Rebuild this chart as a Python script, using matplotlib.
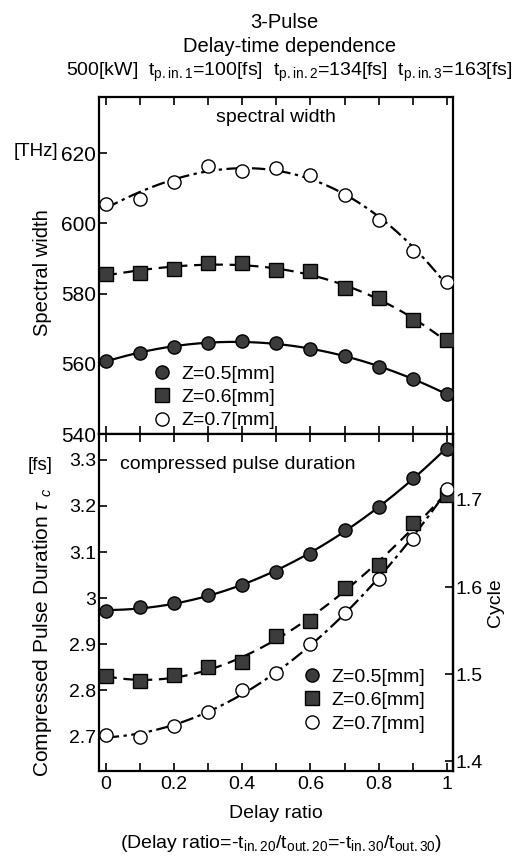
import numpy as np
import matplotlib
matplotlib.use('Agg')
import matplotlib.pyplot as plt
from matplotlib.lines import Line2D

plt.rcParams['font.family'] = ['Liberation Sans', 'DejaVu Sans']
plt.rcParams['mathtext.fontset'] = 'custom'
plt.rcParams['mathtext.rm'] = 'Liberation Sans'
plt.rcParams['mathtext.it'] = 'Liberation Sans:italic'

# Data
delay_ratio = [0.0, 0.1, 0.2, 0.3, 0.4, 0.5, 0.6, 0.7, 0.8, 0.9, 1.0]
z_labels = ['Z=0.5[mm]', 'Z=0.6[mm]', 'Z=0.7[mm]']

width_z05 = [560.8, 563.1, 564.8, 565.9, 566.5, 565.9, 564.2, 562.2, 559.1, 555.7, 551.4]
width_z06 = [585.7, 586.0, 587.1, 588.6, 588.6, 586.8, 586.3, 581.5, 578.6, 572.4, 566.7]
width_z07 = [605.6, 607.0, 611.8, 616.3, 614.9, 615.8, 613.8, 608.1, 601.0, 592.2, 583.4]

tau_z05 = [2.972, 2.980, 2.989, 3.007, 3.028, 3.057, 3.096, 3.148, 3.198, 3.261, 3.324]
tau_z06 = [2.830, 2.820, 2.833, 2.850, 2.861, 2.917, 2.950, 3.022, 3.072, 3.163, 3.224]
tau_z07 = [2.704, 2.698, 2.722, 2.754, 2.800, 2.837, 2.900, 2.967, 3.041, 3.128, 3.237]

period_fs = 1.89  # optical cycle used for the right axis

styles = [
    dict(marker='o', mfc='#3c3c3c', mec='black', ls='-'),
    dict(marker='s', mfc='#3c3c3c', mec='black', ls=(0, (5, 3))),
    dict(marker='o', mfc='white', mec='black', ls=(0, (6, 2, 1.5, 2))),
]

W, H = 521, 856
fig = plt.figure(figsize=(W / 100, H / 100), dpi=100)

left, right = 99 / W, 453 / W
ax_top = fig.add_axes([left, 1 - 434 / H, right - left, (434 - 97) / H])
ax_bot = fig.add_axes([left, 1 - 771 / H, right - left, (771 - 434) / H], sharex=ax_top)

xs = np.array(delay_ratio)
xfine = np.linspace(0, 1, 200)


def draw(ax, series):
    for ys, st in zip(series, styles):
        coef = np.polyfit(xs, ys, 3)
        ax.plot(xfine, np.polyval(coef, xfine), color='black', lw=1.6, ls=st['ls'], zorder=2)
        ax.plot(xs, ys, ls='none', marker=st['marker'], ms=9.5, mfc=st['mfc'],
                mec=st['mec'], mew=1.0, zorder=3)


draw(ax_top, [width_z05, width_z06, width_z07])
draw(ax_bot, [tau_z05, tau_z06, tau_z07])

ax_top.set_xlim(-0.02, 1.018)
ax_top.set_ylim(540, 636)
ax_top.set_yticks([540, 560, 580, 600, 620])
ax_bot.set_ylim(2.625, 3.356)
ax_bot.set_yticks([2.7, 2.8, 2.9, 3.0, 3.1, 3.2, 3.3])
ax_bot.set_yticklabels(['2.7', '2.8', '2.9', '3', '3.1', '3.2', '3.3'])
ax_bot.set_xticks([0, 0.2, 0.4, 0.6, 0.8, 1.0])
ax_bot.set_xticklabels(['0', '0.2', '0.4', '0.6', '0.8', '1'])
ax_bot.set_xticks(np.arange(0.1, 1.0, 0.2), minor=True)

for ax in (ax_top, ax_bot):
    for s in ax.spines.values():
        s.set_linewidth(1.6)
    ax.tick_params(which='both', direction='in', length=6, width=1.2,
                   top=True, bottom=True, labelsize=14)
    ax.tick_params(axis='y', pad=2)
ax_top.tick_params(axis='x', labelbottom=False)
ax_top.tick_params(axis='y', labelsize=15)

sec = ax_bot.secondary_yaxis('right', functions=(lambda t: t / period_fs, lambda c: c * period_fs))
sec.set_yticks([1.4, 1.5, 1.6, 1.7])
sec.tick_params(direction='in', length=6, width=1.2, labelsize=14, pad=2)
sec.spines['right'].set_linewidth(1.6)
sec.set_ylabel('Cycle', fontsize=14, labelpad=3)

ax_top.text(0.5, 0.94, 'spectral width', transform=ax_top.transAxes,
            ha='center', va='center', fontsize=14)
ax_bot.text(0.06, 0.91, 'compressed pulse duration', transform=ax_bot.transAxes,
            ha='left', va='center', fontsize=14)

handles = [Line2D([], [], ls='none', marker=st['marker'], ms=9.5, mfc=st['mfc'],
                  mec=st['mec'], mew=1.0) for st in styles]
ax_top.legend(handles, z_labels, loc='upper left', bbox_to_anchor=(0.155, 0.205),
              frameon=False, handlelength=0.8, handletextpad=0.6, labelspacing=0.3,
              borderaxespad=0, borderpad=0, fontsize=14)
ax_bot.legend(handles, z_labels, loc='upper left', bbox_to_anchor=(0.58, 0.305),
              frameon=False, handlelength=0.8, handletextpad=0.6, labelspacing=0.3,
              borderaxespad=0, borderpad=0, fontsize=14)

fig.text(43 / W, 1 - 273 / H, 'Spectral width', rotation=90, ha='center', va='center', fontsize=14.5)
fig.text(36 / W, 1 - 151 / H, '[THz]', ha='center', va='center', fontsize=13.5)
fig.text(43 / W, 1 - 632 / H, r'Compressed Pulse Duration $\tau$ $_{c}$', rotation=90,
         ha='center', va='center', fontsize=15)
fig.text(40 / W, 1 - 465 / H, '[fs]', ha='center', va='center', fontsize=13.5)

fig.text(0.545, 1 - 22 / H, '3-Pulse', ha='center', va='center', fontsize=14.5)
fig.text(0.555, 1 - 47 / H, 'Delay-time dependence', ha='center', va='center', fontsize=14.5)
fig.text(0.555, 1 - 72 / H,
         r'500[kW]  t$_{\mathrm{p.in.1}}$=100[fs]  t$_{\mathrm{p.in.2}}$=134[fs]  t$_{\mathrm{p.in.3}}$=163[fs]',
         ha='center', va='center', fontsize=14)

fig.text(276 / W, 1 - 813 / H, 'Delay ratio', ha='center', va='center', fontsize=14)
fig.text(281 / W, 1 - 843 / H,
         r'(Delay ratio=-t$_{\mathrm{in.20}}$/t$_{\mathrm{out.20}}$=-t$_{\mathrm{in.30}}$/t$_{\mathrm{out.30}}$)',
         ha='center', va='center', fontsize=14)

fig.savefig('out.png', dpi=100)
